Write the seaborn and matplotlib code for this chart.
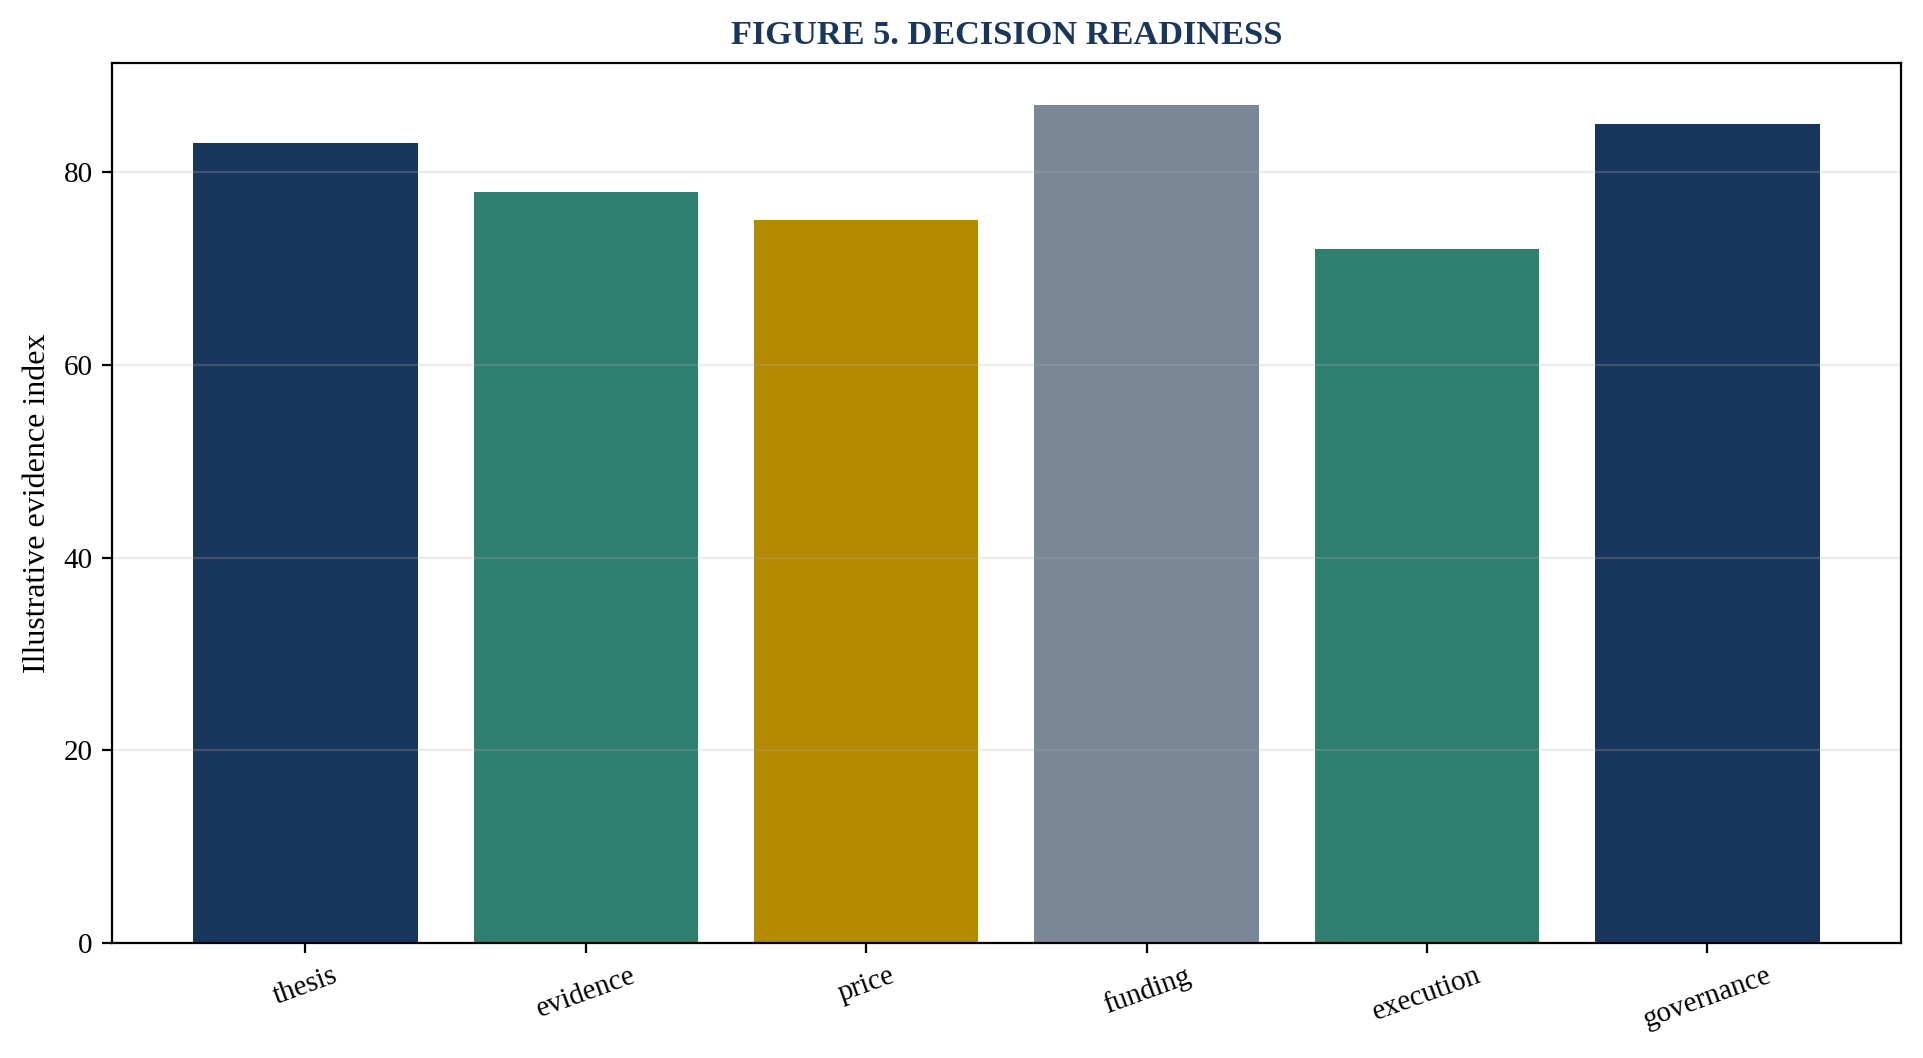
import pandas as pd
import matplotlib.pyplot as plt
import seaborn as sns

# Chart data
categories = ["thesis", "evidence", "price", "funding", "execution", "governance"]
scores = [83, 78, 75, 87, 72, 85]
bar_colors = ["#18365d", "#2e7f6e", "#b38a00", "#7a8797", "#2e7f6e", "#18365d"]

df = pd.DataFrame({"Component": categories, "Score": scores})

plt.style.use('default')
plt.rcParams['font.family'] = ['Liberation Serif', 'DejaVu Serif']

fig = plt.figure(figsize=(9.62, 5.29), dpi=200)
ax = fig.add_axes([0.0582, 0.1087, 0.9298, 0.8318])

sns.barplot(data=df, x="Component", y="Score", hue="Component",
            palette=bar_colors, width=0.8, saturation=1, legend=False, ax=ax)

ax.set_xlim(-0.69, len(categories) - 0.31)
ax.set_ylim(0, max(scores) * 1.05)
ax.grid(axis='y', alpha=0.25)
ax.set_yticks([0, 20, 40, 60, 80])

ax.set_title('FIGURE 5. DECISION READINESS', fontsize=12.4, fontweight='bold',
             color='#1b365d', pad=7)
ax.set_xlabel('')
ax.set_ylabel('Illustrative evidence index', fontsize=11.5)
ax.tick_params(axis='both', labelsize=10.5)
plt.setp(ax.get_xticklabels(), rotation=20)

plt.savefig('out.png', dpi=200)
